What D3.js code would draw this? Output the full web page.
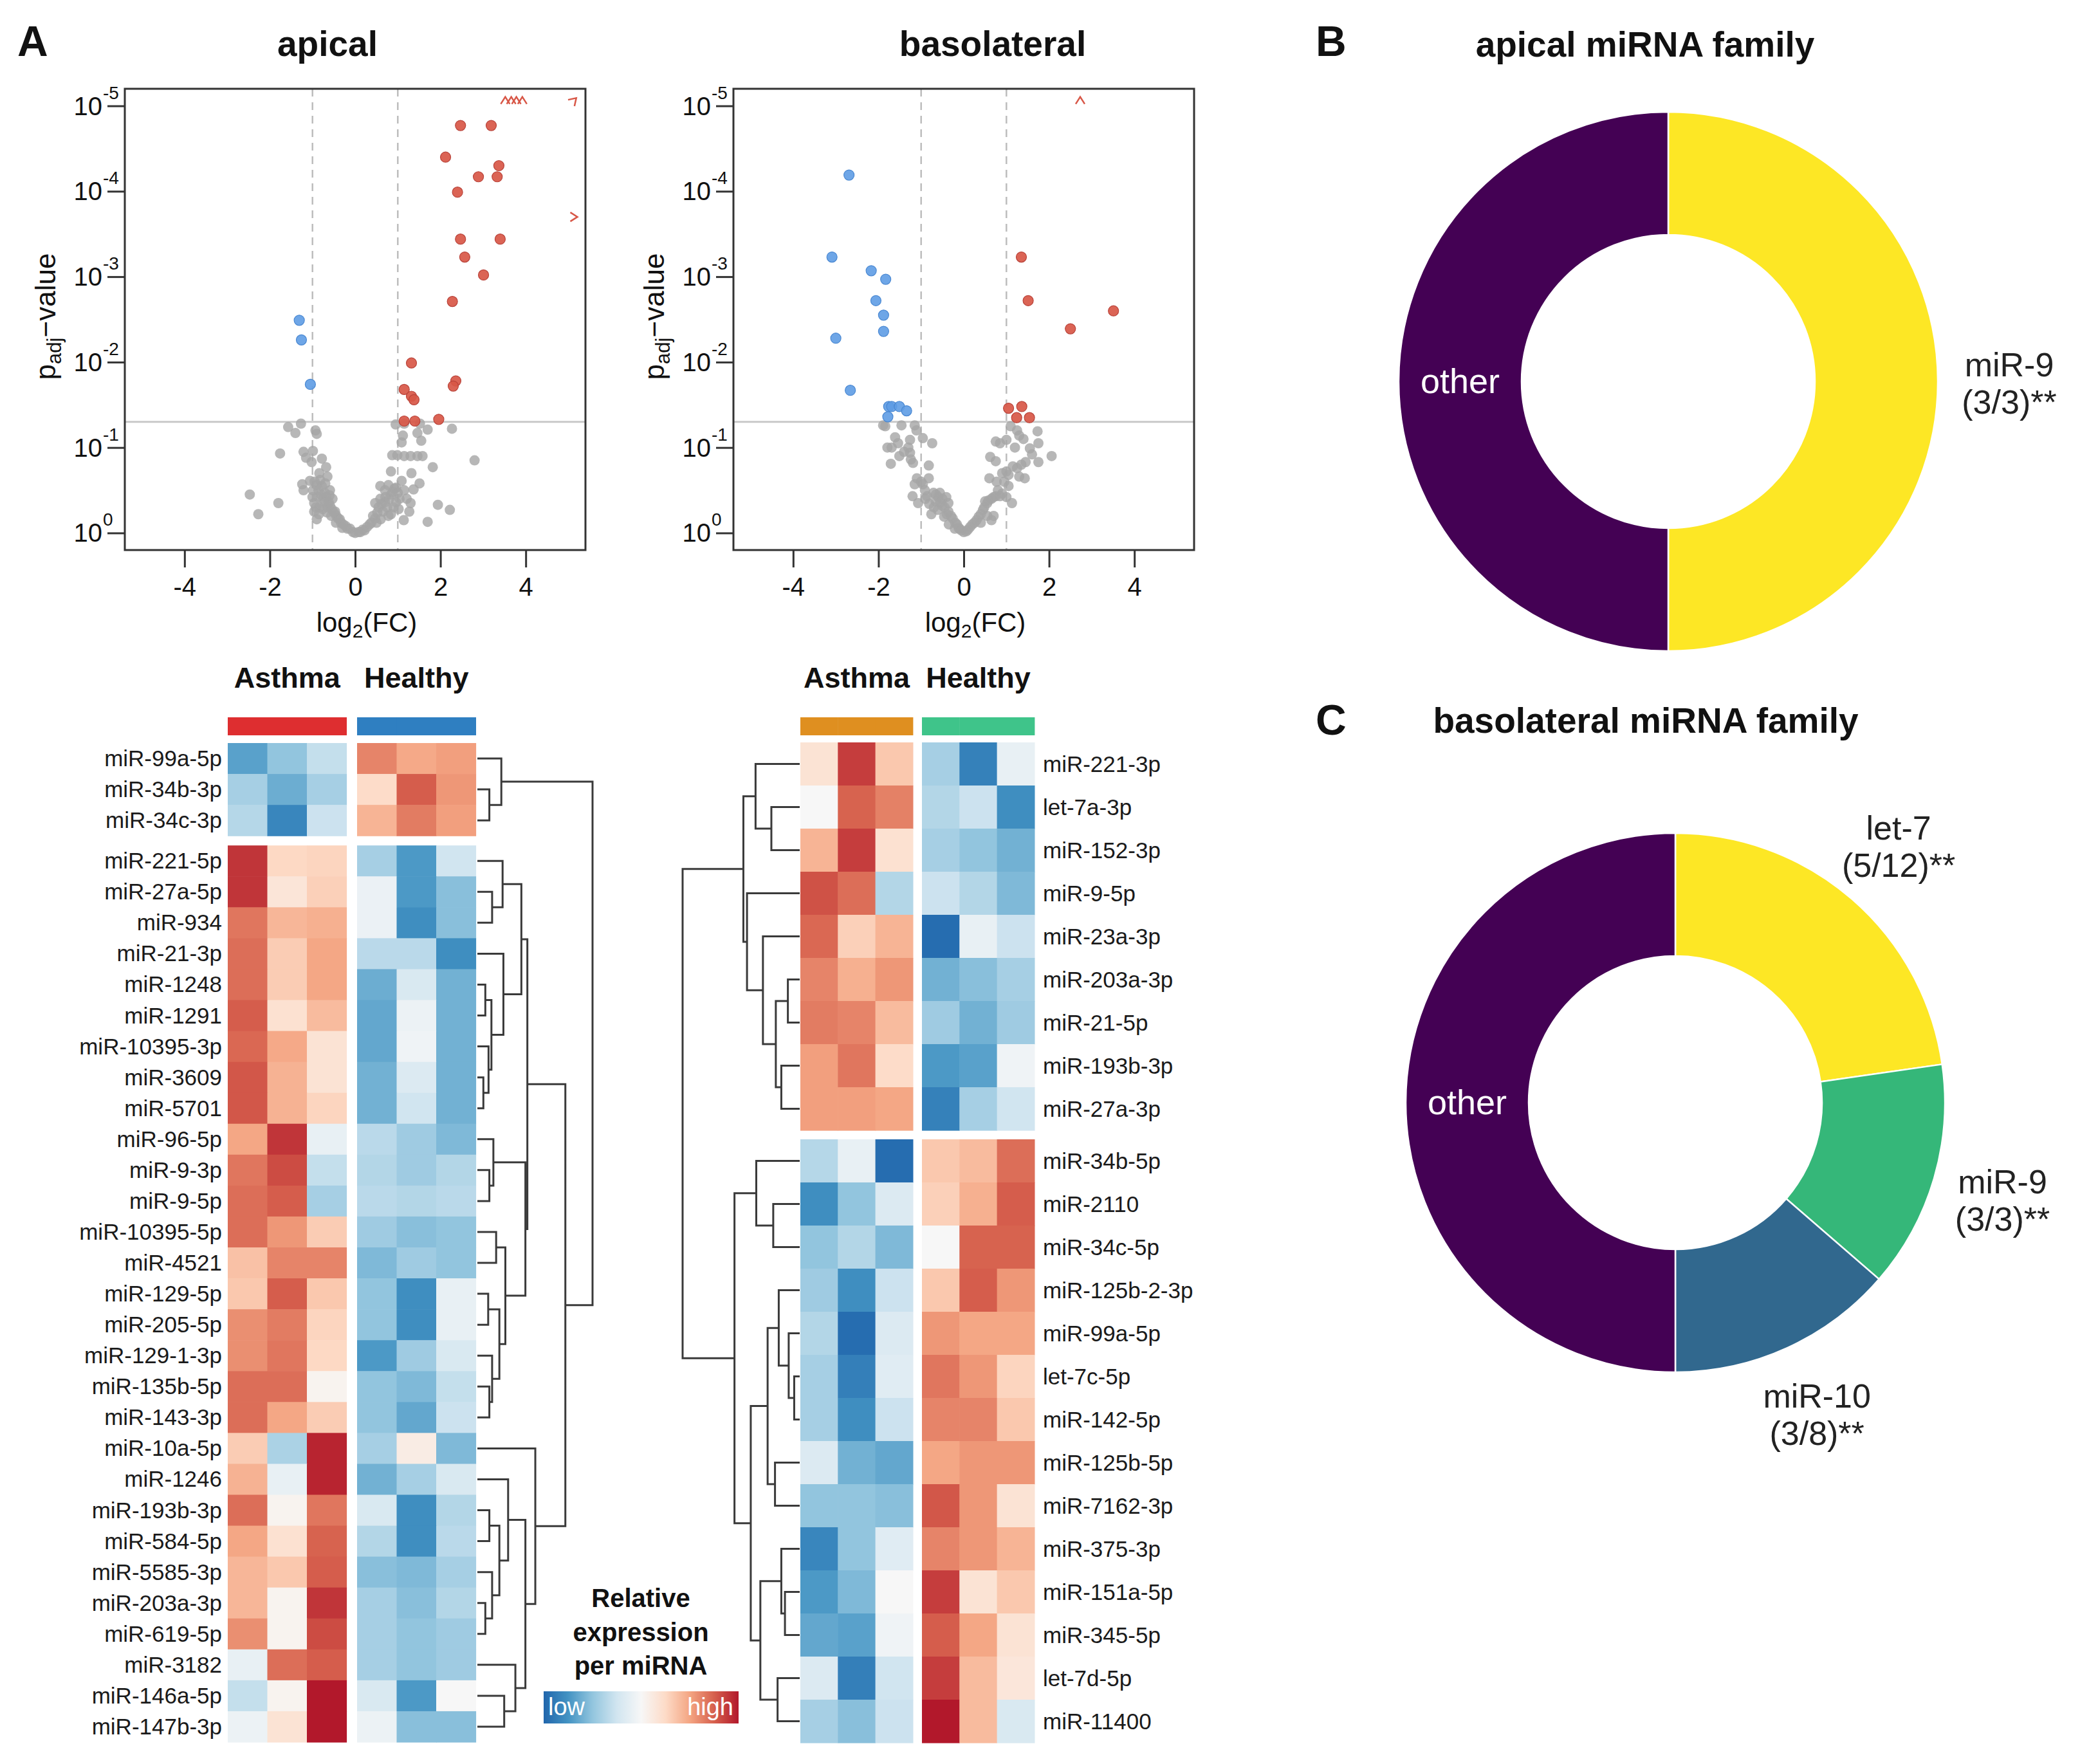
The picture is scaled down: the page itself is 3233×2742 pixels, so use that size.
<!DOCTYPE html>
<html lang="en">
<head>
<meta charset="utf-8">
<title>Apical / basolateral miRNA</title>
<script src="https://cdnjs.cloudflare.com/ajax/libs/d3/7.8.5/d3.min.js"></script>
<style>
  body { margin: 0; background: #fff; }
  svg { display: block; font-family: "Liberation Sans", Arial, Helvetica, sans-serif; }
</style>
</head>
<body>
<div id="chart"></div>
<script>
// ---------- volcano data: [log2(FC), -log10(padj)] ----------
const xTicks = [-4, -2, 0, 2, 4];
const yTicks = [0, 1, 2, 3, 4, 5];
const fcCut = [-1, 1];
const padjCut = 0.05;

const apicalUp = [[2.47,4.77],[3.19,4.77],[2.12,4.40],[3.37,4.30],[2.89,4.17],[3.33,4.17],[2.40,3.99],
  [2.47,3.44],[3.40,3.44],[2.57,3.23],[3.01,3.02],[2.28,2.71],[1.32,1.99],[2.36,1.78],[2.30,1.72],
  [1.15,1.68],[1.32,1.60],[1.38,1.56],[1.96,1.33],[1.15,1.31],[1.40,1.31]];
const apicalDown = [[-1.31,2.49],[-1.26,2.26],[-1.05,1.74]];
const apicalNs = [[-1.57,1.24],[-1.27,1.28],[-1.40,1.17],[-0.93,1.20],[-0.90,1.16],[-1.76,0.93],[-1.21,0.95],
  [-0.99,0.96],[-1.15,0.88],[-0.78,0.87],[-1.02,0.83],[-0.68,0.77],[-0.84,0.70],[-0.65,0.66],[-2.47,0.45],
  [-2.27,0.22],[-1.80,0.35],[-1.24,0.57],[-1.06,0.61],[-1.21,0.50],[-0.99,0.50],[-0.78,0.55],[-0.59,0.50],
  [-0.96,0.35],[-0.96,0.25],[-0.90,0.16],[-0.75,0.40],[-0.65,0.30],[-0.53,0.40],[-0.47,0.25],[-0.40,0.17],
  [-0.28,0.10],[-0.12,0.05],[0,0],[-0.59,0.32],[-0.71,0.47],[-0.84,0.30],[-0.05,0.01],[-0.18,0.05],
  [-0.22,0.08],[-0.33,0.12],[-0.36,0.16],[-0.44,0.20],[-0.50,0.24],[-0.55,0.28],[-0.62,0.36],[-0.68,0.42],
  [-0.72,0.36],[-0.80,0.45],[-0.86,0.50],[-0.90,0.56],[-0.95,0.60],[-0.88,0.42],[-0.82,0.62],[-0.70,0.58],
  [-0.60,0.44],[-0.92,0.30],[-1.00,0.42],[-0.56,0.20],[-0.45,0.12],[-0.30,0.06],[-0.66,0.24],[-0.76,0.28],
  [-0.85,0.22],
  [0.95,1.27],[1.15,1.28],[1.52,1.28],[1.70,1.21],[2.27,1.22],[1.12,1.14],[1.46,1.17],[1.09,1.06],[1.55,1.08],
  [0.87,0.91],[0.99,0.91],[1.15,0.90],[1.30,0.90],[1.46,0.90],[1.58,0.90],[2.80,0.85],[1.82,0.77],[0.84,0.72],
  [1.32,0.70],[1.51,0.58],[1.09,0.61],[0.59,0.55],[0.78,0.56],[0.96,0.53],[1.15,0.50],[1.37,0.51],[1.94,0.33],
  [2.22,0.27],[1.70,0.13],[1.14,0.15],[1.27,0.25],[1.30,0.35],[1.21,0.40],[0.47,0.35],[0.59,0.40],[0.71,0.42],
  [0.84,0.45],[0.90,0.30],[0.84,0.22],[0.47,0.17],[0.34,0.10],[0.22,0.03],[0.12,0.01],[0.65,0.25],[0.96,0.36],
  [0.08,0.01],[0.18,0.04],[0.28,0.07],[0.38,0.12],[0.42,0.20],[0.52,0.24],[0.55,0.30],[0.62,0.34],[0.70,0.36],
  [0.75,0.30],[0.80,0.40],[0.88,0.48],[0.92,0.52],[1.00,0.47],[1.04,0.40],[0.70,0.50],[0.60,0.16],[0.50,0.12],
  [0.78,0.20],[1.02,0.28]];
// points beyond the axis limits: [x, y, direction]
const apicalCapped = [[3.52,5,'up'],[3.66,5,'up'],[3.78,5,'up'],[3.92,5,'up'],[5,5,'upright'],[5,3.70,'right']];

const basoUp = [[1.35,3.23],[1.51,2.72],[3.51,2.60],[2.50,2.39],[1.05,1.46],[1.36,1.48],[1.24,1.35],[1.54,1.35]];
const basoDown = [[-2.69,4.19],[-3.09,3.23],[-2.17,3.07],[-1.83,2.97],[-2.06,2.72],[-1.88,2.55],[-1.88,2.36],
  [-3.00,2.28],[-2.66,1.67],[-1.76,1.48],[-1.69,1.48],[-1.51,1.48],[-1.34,1.43],[-1.78,1.36]];
const basoNs = [[-1.89,1.26],[-1.84,1.25],[-1.46,1.26],[-1.15,1.26],[-1.11,1.20],[-1.61,1.12],[-1.54,1.05],
  [-1.79,1.00],[-1.69,1.00],[-1.26,1.09],[-0.96,1.11],[-0.74,1.05],[-1.26,0.94],[-1.24,0.86],[-1.19,0.82],
  [-1.51,0.90],[-1.71,0.81],[-0.82,0.79],[-1.10,0.64],[-0.82,0.64],[-1.15,0.57],[-0.96,0.57],[-1.20,0.43],
  [-1.07,0.35],[-0.76,0.22],[-0.86,0.43],[-0.71,0.47],[-0.56,0.47],[-0.41,0.42],[-0.66,0.37],[-0.51,0.32],
  [-0.36,0.25],[-0.26,0.17],[-0.16,0.10],[0,0.01],[-0.61,0.27],[-0.46,0.19],[-0.81,0.34],[-0.91,0.50],
  [-0.36,0.35],[-0.21,0.05],[-0.10,0.05],[-1.30,1.00],[-1.40,0.95],[-1.00,0.60],[-0.90,0.40],[-0.60,0.42],
  [-0.50,0.40],[-0.65,0.45],[-0.55,0.36],[-0.45,0.30],[-0.40,0.22],[-0.30,0.20],[-0.20,0.12],[-0.12,0.06],
  [-0.06,0.03],[-0.70,0.30],[-0.35,0.10],
  [0.15,0.07],[0.25,0.12],[0.35,0.19],[0.45,0.27],[0.55,0.35],[0.65,0.40],[0.75,0.43],[0.85,0.43],[0.65,0.15],
  [0.50,0.37],[1.00,0.42],[1.13,0.35],[0.60,0.64],[0.77,0.60],[0.90,0.70],[1.00,0.72],[0.75,0.84],[0.62,0.89],
  [0.75,1.07],[1.00,1.09],[0.85,1.05],[1.20,1.00],[1.10,1.25],[1.25,1.20],[1.30,1.14],[1.40,1.10],[1.73,1.19],
  [1.75,1.05],[1.55,0.99],[1.60,0.92],[1.75,0.83],[2.06,0.90],[1.45,0.83],[1.35,0.80],[1.25,0.76],[1.30,0.66],
  [1.43,0.64],[1.05,0.55],[0.06,0.02],[0.10,0.04],[0.20,0.10],[0.30,0.15],[0.40,0.22],[0.48,0.30],[0.58,0.38],
  [0.70,0.42],[0.80,0.50],[0.90,0.46],[0.95,0.60],[1.05,0.68],[0.40,0.12],[0.55,0.20],[1.15,0.78],[0.70,0.20]];
const basoCapped = [[2.73,5,'up']];

// ---------- heatmap data (row-scaled expression, -1 low .. 1 high) ----------
const groups = ['Asthma', 'Healthy'];
const apicalRows = ['miR-99a-5p','miR-34b-3p','miR-34c-3p','miR-221-5p','miR-27a-5p','miR-934','miR-21-3p',
  'miR-1248','miR-1291','miR-10395-3p','miR-3609','miR-5701','miR-96-5p','miR-9-3p','miR-9-5p','miR-10395-5p',
  'miR-4521','miR-129-5p','miR-205-5p','miR-129-1-3p','miR-135b-5p','miR-143-3p','miR-10a-5p','miR-1246',
  'miR-193b-3p','miR-584-5p','miR-5585-3p','miR-203a-3p','miR-619-5p','miR-3182','miR-146a-5p','miR-147b-3p'];
const apicalExpr = [
  [-0.68,-0.50,-0.30, 0.62, 0.48, 0.52],[-0.42,-0.62,-0.42, 0.24, 0.76, 0.55],[-0.36,-0.82,-0.27, 0.43, 0.65, 0.52],
  [ 0.90, 0.26, 0.28,-0.42,-0.72,-0.25],[ 0.90, 0.16, 0.30,-0.08,-0.72,-0.53],[ 0.67, 0.42, 0.45,-0.08,-0.78,-0.53],
  [ 0.70, 0.32, 0.49,-0.34,-0.34,-0.78],[ 0.70, 0.32, 0.49,-0.62,-0.20,-0.60],[ 0.76, 0.20, 0.40,-0.65,-0.07,-0.60],
  [ 0.72, 0.48, 0.18,-0.65,-0.05,-0.60],[ 0.78, 0.44, 0.18,-0.60,-0.18,-0.60],[ 0.78, 0.44, 0.28,-0.60,-0.25,-0.60],
  [ 0.49, 0.90,-0.10,-0.34,-0.45,-0.56],[ 0.67, 0.82,-0.30,-0.37,-0.45,-0.37],[ 0.70, 0.76,-0.42,-0.34,-0.37,-0.34],
  [ 0.70, 0.55, 0.32,-0.45,-0.53,-0.50],[ 0.37, 0.62, 0.62,-0.56,-0.45,-0.50],[ 0.34, 0.76, 0.34,-0.50,-0.78,-0.10],
  [ 0.58, 0.65, 0.28,-0.50,-0.78,-0.10],[ 0.58, 0.67, 0.26,-0.72,-0.45,-0.20],[ 0.70, 0.70, 0.04,-0.50,-0.56,-0.30],
  [ 0.70, 0.49, 0.32,-0.50,-0.65,-0.27],[ 0.32,-0.40, 0.96,-0.42, 0.10,-0.56],[ 0.44,-0.10, 0.96,-0.60,-0.42,-0.20],
  [ 0.70, 0.04, 0.67,-0.20,-0.78,-0.37],[ 0.49, 0.20, 0.74,-0.37,-0.78,-0.34],[ 0.42, 0.34, 0.76,-0.53,-0.56,-0.42],
  [ 0.42, 0.04, 0.90,-0.42,-0.53,-0.37],[ 0.58, 0.04, 0.82,-0.42,-0.50,-0.45],[-0.10, 0.70, 0.76,-0.42,-0.50,-0.45],
  [-0.30, 0.04, 1.00,-0.20,-0.72, 0.00],[-0.07, 0.18, 1.00,-0.07,-0.53,-0.53]];
// dendrogram: [height, left, right], leaves are row indices
const apicalTree = [1.0,
  [0.208, 0, [0.104, 1, 2]],
  [0.764,
    [0.434,
      [0.382, [0.219, 3, [0.128, 4, 5]], [0.226, 6, [0.122, [0.069, 7, 8], [0.097, 9, [0.052, 10, 11]]]]],
      [0.417, [0.139, 12, [0.104, 13, 14]], [0.243, [0.163, 15, 16], [0.191, [0.094, 17, 18], [0.128, 19, [0.104, 20, 21]]]]]],
    [0.503, 22, [0.417, [0.267, 23, [0.191, [0.104, 24, 25], [0.128, 26, [0.069, 27, 28]]]], [0.330, 29, [0.233, 30, 31]]]]]];

const basoRows = ['miR-221-3p','let-7a-3p','miR-152-3p','miR-9-5p','miR-23a-3p','miR-203a-3p','miR-21-5p',
  'miR-193b-3p','miR-27a-3p','miR-34b-5p','miR-2110','miR-34c-5p','miR-125b-2-3p','miR-99a-5p','let-7c-5p',
  'miR-142-5p','miR-125b-5p','miR-7162-3p','miR-375-3p','miR-151a-5p','miR-345-5p','let-7d-5p','miR-11400'];
const basoExpr = [
  [ 0.18, 0.87, 0.34,-0.42,-0.85,-0.10],[ 0.00, 0.74, 0.63,-0.37,-0.27,-0.78],[ 0.43, 0.87, 0.20,-0.42,-0.50,-0.60],
  [ 0.80, 0.70,-0.37,-0.27,-0.37,-0.56],[ 0.72, 0.30, 0.43,-0.96,-0.10,-0.27],[ 0.62, 0.45, 0.55,-0.60,-0.53,-0.42],
  [ 0.65, 0.62, 0.40,-0.45,-0.60,-0.45],[ 0.52, 0.67, 0.24,-0.72,-0.68,-0.05],[ 0.52, 0.52, 0.49,-0.85,-0.42,-0.25],
  [-0.36,-0.10,-0.96, 0.34, 0.40, 0.70],[-0.78,-0.50,-0.18, 0.30, 0.45, 0.76],[-0.50,-0.37,-0.56, 0.00, 0.74, 0.74],
  [-0.45,-0.78,-0.27, 0.34, 0.76, 0.55],[-0.37,-0.96,-0.18, 0.55, 0.49, 0.49],[-0.42,-0.86,-0.15, 0.67, 0.55, 0.28],
  [-0.42,-0.78,-0.27, 0.62, 0.62, 0.34],[-0.18,-0.60,-0.65, 0.49, 0.55, 0.55],[-0.50,-0.50,-0.53, 0.78, 0.55, 0.18],
  [-0.82,-0.50,-0.15, 0.62, 0.55, 0.43],[-0.72,-0.56, 0.00, 0.87, 0.18, 0.34],[-0.65,-0.68,-0.05, 0.76, 0.49, 0.18],
  [-0.18,-0.86,-0.25, 0.87, 0.40, 0.15],[-0.42,-0.53,-0.27, 1.00, 0.40,-0.20]];
const basoTree = [1.0,
  [0.481, [0.377, 0, [0.242, 1, 2]], [0.450, 3, [0.314, 4, [0.204, [0.101, 5, 6], [0.157, 7, 8]]]]],
  [0.557, [0.371, 9, [0.226, 10, 11]],
    [0.418, [0.274, [0.179, 12, [0.094, 13, [0.047, 14, 15]]], [0.211, 16, 17]],
            [0.336, [0.157, 18, [0.126, 19, 20]], [0.189, 21, 22]]]]];

// ---------- miRNA family donuts ----------
const apicalFamilies = [{name: 'miR-9', ratio: '(3/3)**', n: 3}, {name: 'other', ratio: '', n: 3}];
const basoFamilies = [{name: 'let-7', ratio: '(5/12)**', n: 5}, {name: 'miR-9', ratio: '(3/3)**', n: 3},
  {name: 'miR-10', ratio: '(3/8)**', n: 3}, {name: 'other', ratio: '', n: 11}];

// ---------- drawing ----------
const W = 3233, H = 2742;
const ink = '#111';
const svg = d3.select('#chart').append('svg').attr('width', W).attr('height', H);
svg.append('rect').attr('width', W).attr('height', H).attr('fill', '#fff');

const rdbu = ['#2166ac','#4393c3','#92c5de','#d1e5f0','#f7f7f7','#fddbc7','#f4a582','#d6604d','#b2182b'];
const color = d3.scaleLinear().domain(d3.range(9).map(i => -1 + i * 0.25)).range(rdbu).clamp(true);

function panelLetter(t, x, y) {
  svg.append('text').attr('x', x).attr('y', y).attr('font-size', 66).attr('font-weight', 'bold')
    .attr('fill', ink).text(t);
}
panelLetter('A', 27, 87);
panelLetter('B', 2045, 87);
panelLetter('C', 2045, 1142);

function chevron(dir) {
  const rot = dir === 'up' ? 0 : dir === 'right' ? 90 : 45;
  return 'rotate(' + rot + ')';
}

function volcano(cfg) {
  const x = d3.scaleLinear().domain([-5.4, 5.4]).range([cfg.left, cfg.left + 716]);
  const y = d3.scaleLinear().domain([-0.2, 5.2]).range([855, 138]);
  const g = svg.append('g');

  g.selectAll('.vcut').data(fcCut).enter().append('line')
    .attr('x1', d => x(d)).attr('x2', d => x(d)).attr('y1', y(5.2)).attr('y2', y(-0.2))
    .attr('stroke', '#bdbdbd').attr('stroke-width', 2.5).attr('stroke-dasharray', '12,9');
  g.append('line').attr('x1', x(-5.4)).attr('x2', x(5.4))
    .attr('y1', y(-Math.log10(padjCut))).attr('y2', y(-Math.log10(padjCut)))
    .attr('stroke', '#c9c9c9').attr('stroke-width', 3);

  g.selectAll('.ns').data(cfg.ns).enter().append('circle')
    .attr('cx', d => x(d[0])).attr('cy', d => y(d[1])).attr('r', 8)
    .attr('fill', '#a5a5a5').attr('fill-opacity', 0.8);
  g.selectAll('.dn').data(cfg.down).enter().append('circle')
    .attr('cx', d => x(d[0])).attr('cy', d => y(d[1])).attr('r', 8)
    .attr('fill', '#5e9ce4').attr('fill-opacity', 0.9).attr('stroke', '#4a88d2').attr('stroke-width', 1.2);
  g.selectAll('.up').data(cfg.up).enter().append('circle')
    .attr('cx', d => x(d[0])).attr('cy', d => y(d[1])).attr('r', 8)
    .attr('fill', '#d85747').attr('fill-opacity', 0.92).attr('stroke', '#b9433a').attr('stroke-width', 1.2);
  g.selectAll('.cap').data(cfg.capped).enter().append('path')
    .attr('transform', d => {
      const dx = d[2] === 'up' ? 0 : 8, dy = d[2] === 'right' ? 0 : -8;
      return 'translate(' + (x(d[0]) + dx) + ',' + (y(d[1]) + dy) + ') ' + chevron(d[2]);
    })
    .attr('d', 'M-7,5L0,-6L7,5').attr('fill', 'none').attr('stroke', '#d85747').attr('stroke-width', 2.5);

  g.append('rect').attr('x', x(-5.4)).attr('y', y(5.2)).attr('width', x(5.4) - x(-5.4))
    .attr('height', y(-0.2) - y(5.2)).attr('fill', 'none').attr('stroke', '#333').attr('stroke-width', 3);

  const xa = g.append('g').attr('transform', 'translate(0,' + y(-0.2) + ')')
    .call(d3.axisBottom(x).tickValues(xTicks).tickSize(27).tickPadding(16).tickFormat(d => String(d)));
  const ya = g.append('g').attr('transform', 'translate(' + x(-5.4) + ',0)')
    .call(d3.axisLeft(y).tickValues(yTicks).tickSize(27).tickFormat(''));
  [xa, ya].forEach(a => {
    a.select('.domain').remove();
    a.selectAll('line').attr('stroke', '#333').attr('stroke-width', 3);
    a.selectAll('text').attr('font-size', 40).attr('fill', ink).attr('font-family', null);
  });
  const yl = g.selectAll('.ylab').data(yTicks).enter().append('g');
  yl.append('text').attr('x', x(-5.4) - 35).attr('y', d => y(d) + 14).attr('text-anchor', 'end')
    .attr('font-size', 40).attr('fill', ink).text('10');
  yl.append('text').attr('x', x(-5.4) - 34).attr('y', d => y(d) - 11)
    .attr('font-size', 28).attr('fill', ink).text(d => d === 0 ? '0' : '-' + d);

  const xt = g.append('text').attr('x', (x(-5.4) + x(5.4)) / 2 + 18).attr('y', 982)
    .attr('text-anchor', 'middle').attr('font-size', 42).attr('fill', ink);
  xt.append('tspan').text('log');
  xt.append('tspan').attr('font-size', 30).attr('dy', 9).text('2');
  xt.append('tspan').attr('dy', -9).text('(FC)');

  const yt = g.append('text').attr('transform', 'translate(' + (x(-5.4) - 108) + ',492) rotate(-90)')
    .attr('text-anchor', 'middle').attr('font-size', 44).attr('fill', ink);
  yt.append('tspan').text('p');
  yt.append('tspan').attr('font-size', 31).attr('dy', 9).text('adj');
  yt.append('tspan').attr('dy', -9).text('\u2212value');

  g.append('text').attr('x', cfg.titleX).attr('y', 87).attr('text-anchor', 'middle')
    .attr('font-size', 55).attr('font-weight', 'bold').attr('fill', ink).text(cfg.title);
}

volcano({left: 194, title: 'apical', titleX: 509, up: apicalUp, down: apicalDown, ns: apicalNs, capped: apicalCapped});
volcano({left: 1140, title: 'basolateral', titleX: 1543, up: basoUp, down: basoDown, ns: basoNs, capped: basoCapped});

function heatmap(cfg) {
  const g = svg.append('g');
  const n = cfg.rows.length;
  const rowH = (cfg.bottom - cfg.top - cfg.gap) / n;
  const rowY = i => cfg.top + i * rowH + (i >= cfg.split ? cfg.gap : 0);
  const col = [0, 1].map(k => d3.scaleBand().domain([0, 1, 2]).range([cfg.groupX[k], cfg.groupX[k] + 3 * cfg.colW]));
  const cx = j => col[j < 3 ? 0 : 1](j % 3);

  // group titles and annotation bars
  groups.forEach((name, k) => {
    g.append('text').attr('x', cfg.groupX[k] + 1.5 * cfg.colW).attr('y', 1069).attr('text-anchor', 'middle')
      .attr('font-size', 45).attr('font-weight', 'bold').attr('fill', ink).text(name);
    g.selectAll('.bar' + k).data([0, 1, 2]).enter().append('rect')
      .attr('x', d => col[k](d)).attr('y', 1115).attr('width', cfg.colW + 0.5).attr('height', 28)
      .attr('fill', cfg.barColors[k]);
  });

  cfg.values.forEach((row, i) => {
    g.selectAll('.c' + i).data(row).enter().append('rect')
      .attr('x', (d, j) => cx(j)).attr('y', rowY(i)).attr('width', cfg.colW + 0.6).attr('height', rowH + 0.6)
      .attr('fill', d => color(d));
  });

  g.selectAll('.rl').data(cfg.rows).enter().append('text')
    .attr('x', cfg.labelX).attr('y', (d, i) => rowY(i) + rowH / 2 + 12)
    .attr('text-anchor', cfg.labelAnchor).attr('font-size', 35).attr('fill', '#1a1a1a').text(d => d);

  const hx = d3.scaleLinear().domain([0, 1]).range(cfg.treeRange);
  const rowC = i => rowY(i) + rowH / 2;
  const segs = [];
  (function walk(node) {
    if (typeof node === 'number') return {y: rowC(node), h: 0};
    const a = walk(node[1]), b = walk(node[2]);
    segs.push('M' + hx(a.h) + ',' + a.y + 'H' + hx(node[0]) + 'V' + b.y + 'H' + hx(b.h));
    return {y: (a.y + b.y) / 2, h: node[0]};
  })(cfg.tree);
  g.append('path').attr('d', segs.join('')).attr('fill', 'none').attr('stroke', '#3a3a3a').attr('stroke-width', 3);
}

heatmap({rows: apicalRows, values: apicalExpr, tree: apicalTree, top: 1155, bottom: 2708, split: 3, gap: 15,
  groupX: [354, 555], colW: 61.5, barColors: ['#de2e30', '#2f7fc1'], labelX: 345, labelAnchor: 'end',
  treeRange: [742, 921]});
heatmap({rows: basoRows, values: basoExpr, tree: basoTree, top: 1154, bottom: 2709, split: 9, gap: 14,
  groupX: [1244, 1433], colW: 58.3, barColors: ['#df8f20', '#3fc48a'], labelX: 1621, labelAnchor: 'start',
  treeRange: [1243, 1061]});

// colour legend
const defs = svg.append('defs');
const grad = defs.append('linearGradient').attr('id', 'rdbu');
grad.selectAll('stop').data(rdbu).enter().append('stop')
  .attr('offset', (d, i) => (i / (rdbu.length - 1) * 100) + '%').attr('stop-color', d => d);
const lg = svg.append('g');
['Relative', 'expression', 'per miRNA'].forEach((t, i) => {
  lg.append('text').attr('x', 996).attr('y', 2498 + i * 52.5).attr('text-anchor', 'middle')
    .attr('font-size', 40).attr('font-weight', 'bold').attr('fill', ink).text(t);
});
lg.append('rect').attr('x', 845).attr('y', 2629).attr('width', 303).attr('height', 50).attr('fill', 'url(#rdbu)');
lg.append('text').attr('x', 852).attr('y', 2666).attr('font-size', 38).attr('fill', '#fff').text('low');
lg.append('text').attr('x', 1140).attr('y', 2666).attr('text-anchor', 'end').attr('font-size', 38)
  .attr('fill', '#fff').text('high');

function donut(cfg) {
  const g = svg.append('g').attr('transform', 'translate(' + cfg.cx + ',' + cfg.cy + ')');
  const pie = d3.pie().sort(null).value(d => d.n);
  const arc = d3.arc().innerRadius(228).outerRadius(419);
  const labelArc = d3.arc().innerRadius(530).outerRadius(530);
  const arcs = pie(cfg.data);
  g.selectAll('path').data(arcs).enter().append('path')
    .attr('d', arc).attr('fill', (d, i) => cfg.colors[i]).attr('stroke', '#fff').attr('stroke-width', 2.5);
  arcs.forEach(a => {
    if (a.data.name === 'other') {
      const c = arc.centroid(a);
      g.append('text').attr('x', c[0]).attr('y', c[1] + 18).attr('text-anchor', 'middle')
        .attr('font-size', 54).attr('fill', '#fff').text('other');
    } else {
      const c = labelArc.centroid(a);
      g.append('text').attr('x', c[0]).attr('y', c[1] - 8).attr('text-anchor', 'middle')
        .attr('font-size', 52).attr('fill', '#222').text(a.data.name);
      g.append('text').attr('x', c[0]).attr('y', c[1] + 50).attr('text-anchor', 'middle')
        .attr('font-size', 52).attr('fill', '#222').text(a.data.ratio);
    }
  });
  svg.append('text').attr('x', cfg.titleX).attr('y', cfg.titleY).attr('text-anchor', 'middle')
    .attr('font-size', 55).attr('font-weight', 'bold').attr('fill', ink).text(cfg.title);
}

donut({data: apicalFamilies, colors: ['#fde725', '#440154'], cx: 2593, cy: 593,
  title: 'apical miRNA family', titleX: 2557, titleY: 88});
donut({data: basoFamilies, colors: ['#fde725', '#35b779', '#31688e', '#440154'], cx: 2604, cy: 1714,
  title: 'basolateral miRNA family', titleX: 2558, titleY: 1139});
</script>
</body>
</html>
